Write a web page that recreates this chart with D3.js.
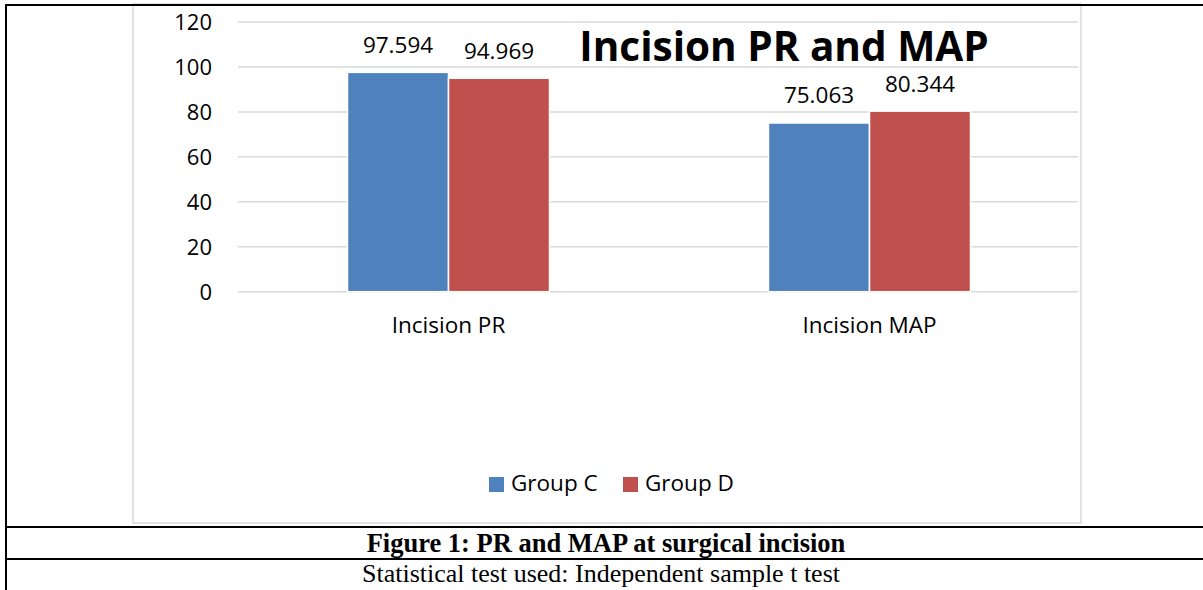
<!DOCTYPE html>
<html><head><meta charset="utf-8">
<script src="https://cdn.jsdelivr.net/npm/d3@7"></script>
<style>body{margin:0;background:#fff}svg{display:block}</style>
</head><body>
<svg id="c" width="1203" height="590"></svg>
<script>
const categories = ["Incision PR", "Incision MAP"];
const seriesNames = ["Group C", "Group D"];
const groupC = [97.594, 75.063];
const groupD = [94.969, 80.344];
const yTicks = [0, 20, 40, 60, 80, 100, 120];
const chartTitle = "Incision PR and MAP";
const captionTitle = "Figure 1: PR and MAP at surgical incision";
const captionNote = "Statistical test used: Independent sample t test";
const colors = ["#4F81BD", "#C0504D"];

const svg = d3.select("#c");
const font = "'Open Sans', sans-serif";
const serif = "'Liberation Serif', 'Times New Roman', serif";

// chart frame
svg.append("rect").attr("x",133).attr("y",4).attr("width",948).attr("height",519)
  .attr("fill","none").attr("stroke","#d9d9d9").attr("stroke-width",1.5);

// table lines
const black = "#000";
[5, 527, 559].forEach(yy => svg.append("line").attr("x1",5).attr("x2",1203).attr("y1",yy).attr("y2",yy).attr("stroke",black).attr("stroke-width",2));
svg.append("line").attr("x1",6).attr("x2",6).attr("y1",4).attr("y2",590).attr("stroke",black).attr("stroke-width",2);

const x0 = d3.scaleBand().domain(categories).range([238, 1080]).padding(0);
const groupW = 202;
const x1 = d3.scaleBand().domain(seriesNames)
  .range([(x0.bandwidth()-groupW)/2, (x0.bandwidth()+groupW)/2]);
const y = d3.scaleLinear().domain([0, 120]).range([291.7, 22]);

// gridlines
svg.append("g").selectAll("line").data(yTicks).join("line")
  .attr("x1",238).attr("x2",1078)
  .attr("y1",d=>y(d)).attr("y2",d=>y(d))
  .attr("stroke","#d9d9d9").attr("stroke-width",1.5);

// y axis labels
const yAxis = d3.axisLeft(y).tickValues(yTicks).tickSize(0).tickPadding(0);
const ya = svg.append("g").attr("transform","translate(212,0)").call(yAxis);
ya.select(".domain").remove();
ya.selectAll("text").attr("font-family",font).attr("font-size",22).attr("fill","#000")
  .attr("dy","0.36em");

// bars
const data = categories.map((c,i)=>({cat:c, vals:[{s:seriesNames[0],v:groupC[i],col:colors[0]},{s:seriesNames[1],v:groupD[i],col:colors[1]}]}));
const g = svg.append("g").selectAll("g").data(data).join("g")
  .attr("transform",d=>`translate(${x0(d.cat)},0)`);
g.selectAll("rect").data(d=>d.vals).join("rect")
  .attr("x",d=>x1(d.s)).attr("width",x1.bandwidth())
  .attr("y",d=>y(d.v)).attr("height",d=>y(0)-y(d.v))
  .attr("fill",d=>d.col).attr("stroke","#fff").attr("stroke-width",1.5);
g.selectAll("text").data(d=>d.vals).join("text")
  .attr("x",d=>x1(d.s)+x1.bandwidth()/2).attr("y",d=>y(d.v)-19.5)
  .attr("text-anchor","middle").attr("font-family",font).attr("font-size",22.5).attr("fill","#000")
  .text(d=>d.v.toFixed(3));

// x axis labels
const xAxis = d3.axisBottom(x0).tickSize(0).tickPadding(0);
const xa = svg.append("g").attr("transform","translate(0,333)").call(xAxis);
xa.select(".domain").remove();
xa.selectAll("text").attr("font-family",font).attr("font-size",22.5).attr("fill","#000").attr("dy",0).attr("y",0);

// title
svg.append("text").attr("x",784).attr("y",61).attr("text-anchor","middle")
  .attr("font-family",font).attr("font-weight","bold").attr("font-size",40.5).attr("fill","#000")
  .text(chartTitle);

// legend
const legX = [489, 623];
const lg = svg.append("g").selectAll("g").data(seriesNames).join("g")
  .attr("transform",(d,i)=>`translate(${legX[i]},477)`);
lg.append("rect").attr("width",15).attr("height",15).attr("fill",(d,i)=>colors[i]);
lg.append("text").attr("x",22).attr("y",14).attr("font-family",font).attr("font-size",22.5).attr("fill","#000").text(d=>d);

// caption
svg.append("text").attr("x",606).attr("y",552).attr("text-anchor","middle")
  .attr("font-family",serif).attr("font-weight","bold").attr("font-size",26.5)
  .text(captionTitle);
svg.append("text").attr("x",601).attr("y",582).attr("text-anchor","middle")
  .attr("font-family",serif).attr("font-size",26)
  .text(captionNote);
</script>
</body></html>
